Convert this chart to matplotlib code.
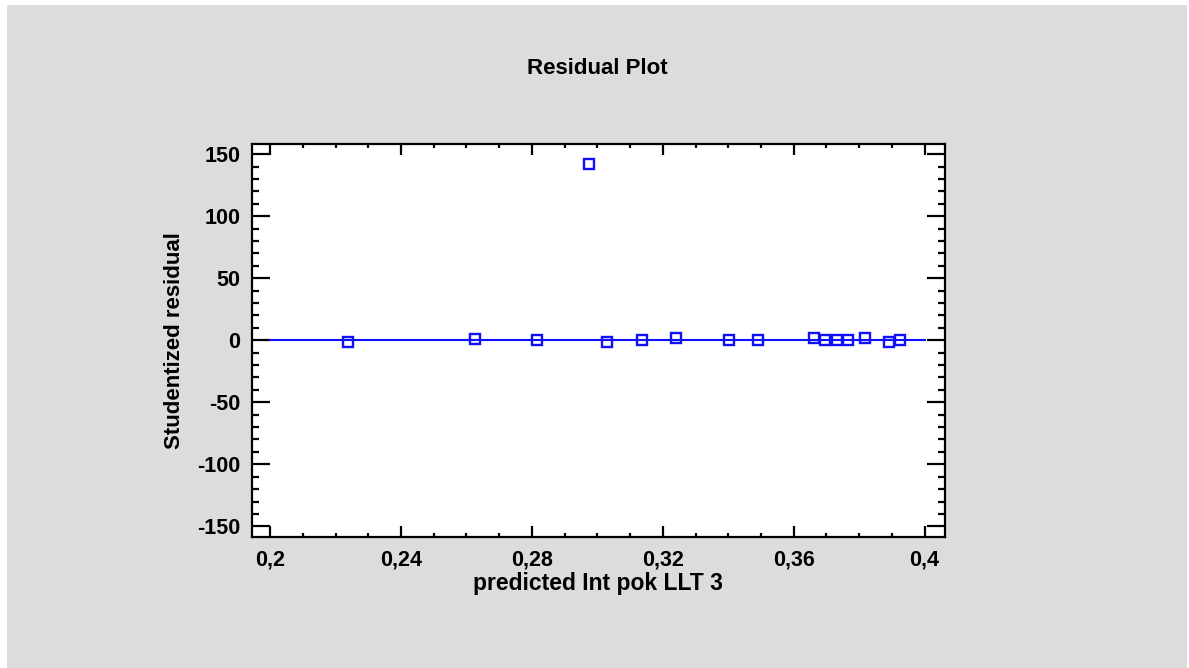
import matplotlib
matplotlib.use("Agg")
import matplotlib.pyplot as plt
from matplotlib.patches import Rectangle
from matplotlib.ticker import MultipleLocator, FuncFormatter

# Predicted values and studentized residuals
predicted = [0.2237, 0.2625, 0.2816, 0.2974, 0.3030, 0.3137, 0.3240, 0.3403,
             0.3492, 0.3661, 0.3696, 0.3733, 0.3767, 0.3819, 0.3892, 0.3926]
residuals = [-1.6, 1.1, 0.0, 141.7, -1.6, 0.0, 1.6, 0.0,
             0.0, 1.5, 0.0, 0.0, 0.0, 1.5, -1.6, 0.0]

x_ticks = [0.20, 0.24, 0.28, 0.32, 0.36, 0.40]
y_ticks = [-150, -100, -50, 0, 50, 100, 150]
zero_line_x = [0.20, 0.40]
zero_line_y = [0, 0]

title = "Residual Plot"
x_label = "predicted Int pok LLT 3"
y_label = "Studentized residual"

W, H, DPI = 1189, 668, 100
plt.rcParams["font.family"] = ["Liberation Sans", "DejaVu Sans"]
plt.rcParams["axes.unicode_minus"] = False
fig = plt.figure(figsize=(W / DPI, H / DPI), dpi=DPI, facecolor="white")

# gray panel behind the chart
panel = Rectangle((7 / W, 0), (1187 - 7) / W, (H - 5) / H,
                  transform=fig.transFigure, facecolor="#dcdcdc",
                  edgecolor="none", zorder=-10)
fig.add_artist(panel)

left, right, top, bottom = 251.5, 944.5, 143.5, 537.0
ax = fig.add_axes([left / W, 1 - bottom / H, (right - left) / W, (bottom - top) / H])
ax.set_zorder(1)
ax.set_facecolor("white")

blue = "#1010ff"
ax.plot(zero_line_x, zero_line_y, color=blue, lw=1.5, zorder=2)
ax.plot(predicted, residuals, linestyle="none", marker="s", markersize=6.6,
        markerfacecolor="none", markeredgecolor=blue, markeredgewidth=1.7, zorder=3)

ax.set_xlim(0.1943, 0.4061)
ax.set_ylim(-158.6, 158.6)

ax.set_xticks(x_ticks)
ax.set_yticks(y_ticks)
ax.xaxis.set_minor_locator(MultipleLocator(0.01))
ax.yaxis.set_minor_locator(MultipleLocator(10))

def comma_fmt(v, pos):
    s = f"{v:.2f}".rstrip("0").rstrip(".")
    return s.replace(".", ",")

ax.xaxis.set_major_formatter(FuncFormatter(comma_fmt))

for sp in ax.spines.values():
    sp.set_linewidth(1.6)
    sp.set_color("black")

fs = 15.5
ax.tick_params(axis="x", which="major", direction="in", length=8, width=1.6,
               top=True, bottom=True, labelsize=fs, pad=9)
ax.tick_params(axis="x", which="minor", direction="in", length=3, width=1.6,
               top=True, bottom=True)
ax.tick_params(axis="y", which="major", direction="in", length=13, width=1.6,
               left=True, right=True, labelsize=fs, pad=8)
ax.tick_params(axis="y", which="minor", direction="in", length=5, width=1.6,
               left=True, right=True)
for lbl in ax.get_xticklabels() + ax.get_yticklabels():
    lbl.set_fontweight("bold")

ax.set_xlabel(x_label, fontsize=16.5, fontweight="bold", labelpad=1)
ax.set_ylabel(y_label, fontsize=16, fontweight="bold", labelpad=9)
fig.text(597 / W, 1 - 68 / H, title, ha="center", va="center",
         fontsize=16, fontweight="bold")

fig.savefig("out.png", dpi=DPI, facecolor=fig.get_facecolor())
